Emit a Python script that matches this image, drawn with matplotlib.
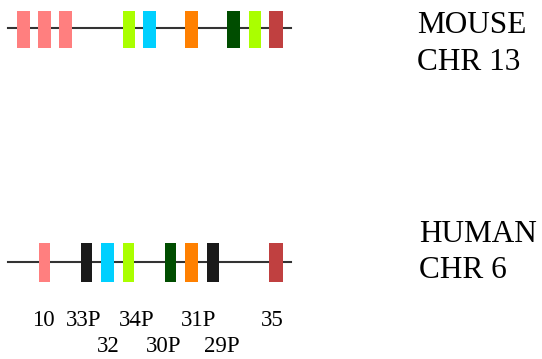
import matplotlib
matplotlib.use("Agg")
import matplotlib.pyplot as plt

# gene blocks on each chromosome (x centre, width in px of the drawing)
mouse_x = [23.3, 44.5, 65.3, 128.7, 149.7, 191.7, 233.7, 254.8, 276.0]
mouse_w = [13.3, 12.4, 13.3, 12.0, 13.3, 13.3, 13.3, 11.7, 13.3]
mouse_colors = ['#ff7f7f', '#ff7f7f', '#ff7f7f', '#aaff00', '#00d0ff',
                '#ff8000', '#004d00', '#aaff00', '#c04040']

human_x = [44.5, 86.5, 107.3, 128.7, 170.7, 191.7, 212.8, 276.0]
human_w = [11.6, 11.6, 13.3, 11.3, 11.3, 13.3, 11.7, 13.3]
human_colors = ['#ff7f7f', '#1a1a1a', '#00d0ff', '#aaff00', '#004d00',
                '#ff8000', '#1a1a1a', '#c04040']

# gene names under the human track
labels_top = ['10', '33P', '34P', '31P', '35']
labels_top_x = [43.3, 83.3, 137.0, 198.8, 272.5]
labels_bot = ['32', '30P', '29P']
labels_bot_x = [108.3, 164.0, 221.7]

fig = plt.figure(figsize=(5.42, 3.59), dpi=100)
ax = fig.add_axes([0, 0, 1, 1])
ax.set_xlim(0, 542)
ax.set_ylim(359, 0)
ax.axis('off')

serif = 'Liberation Serif'

# mouse chromosome 13
ax.plot([8, 291], [28.3, 28.3], color='#333333', lw=1.5, zorder=1)
ax.bar(mouse_x, 37, width=mouse_w, bottom=11, color=mouse_colors, zorder=2)

# human chromosome 6
ax.plot([8, 291], [262.3, 262.3], color='#333333', lw=1.5, zorder=1)
ax.bar(human_x, 39, width=human_w, bottom=242.7, color=human_colors, zorder=2)

for t, x in zip(labels_top, labels_top_x):
    ax.text(x, 321, t, family=serif, fontsize=16.5, ha='center', va='center')
for t, x in zip(labels_bot, labels_bot_x):
    ax.text(x, 347, t, family=serif, fontsize=16.5, ha='center', va='center')

ax.text(417, 25.5, 'MOUSE', family=serif, fontsize=22.5, va='center')
ax.text(417, 62, 'CHR 13', family=serif, fontsize=22.5, va='center')
ax.text(419, 234, 'HUMAN', family=serif, fontsize=22.5, va='center')
ax.text(419, 270, 'CHR 6', family=serif, fontsize=22.5, va='center')

fig.savefig('out.png', dpi=100)
